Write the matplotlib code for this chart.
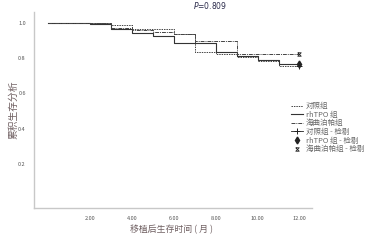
import matplotlib
matplotlib.use("Agg")
import matplotlib.pyplot as plt
from matplotlib.lines import Line2D
from matplotlib.path import Path

plt.rcParams['font.family'] = ['Noto Sans CJK SC', 'DejaVu Sans']

# Survival data (step curves)
control_t = [0, 3, 4, 6, 7, 8, 9, 10, 11, 12]
control_s = [1.0, 0.988, 0.963, 0.934, 0.836, 0.821, 0.808, 0.780, 0.757, 0.757]

rhtpo_t = [0, 2, 3, 4, 5, 6, 8, 9, 10, 11, 12]
rhtpo_s = [1.0, 0.990, 0.966, 0.940, 0.926, 0.885, 0.836, 0.811, 0.788, 0.768, 0.768]

hetro_t = [0, 3, 4, 5, 6, 7, 9, 12]
hetro_s = [1.0, 0.970, 0.958, 0.946, 0.934, 0.895, 0.821, 0.821]

# censored points at end of follow-up
cens_t = 12
cens_s = {"control": 0.757, "rhtpo": 0.768, "hetro": 0.821}

x_ticks = [2, 4, 6, 8, 10, 12]
x_labels = ["2.00", "4.00", "6.00", "8.00", "10.00", "12.00"]
y_ticks = [0.2, 0.4, 0.6, 0.8, 1.0]
y_labels = ["0.2", "0.4", "0.6", "0.8", "1.0"]

legend_names = ["对照组", "rhTPO 组", "海曲泊帕组", "对照组 - 检剔", "rhTPO 组 - 检剔", "海曲泊帕组 - 检剔"]

hourglass = Path([(-1, 1), (1, 1), (-1, -1), (1, -1), (-1, 1)])

fig = plt.figure(figsize=(3.71, 2.40), dpi=100)
ax = fig.add_axes([0.092, 0.133, 0.749, 0.817])

ax.step(control_t, control_s, where="post", color="#444444", lw=0.7, linestyle=(0, (1.5, 1)))
ax.step(rhtpo_t, rhtpo_s, where="post", color="#333333", lw=0.8, linestyle="-")
ax.step(hetro_t, hetro_s, where="post", color="#444444", lw=0.7, linestyle=(0, (4, 1, 1, 1)))

ax.plot(cens_t, cens_s["control"], marker="+", color="#222222", ms=4, mew=0.7)
ax.plot(cens_t, cens_s["rhtpo"], marker="d", color="#222222", ms=3.5)
ax.plot(cens_t, cens_s["hetro"], marker=hourglass, color="#222222", ms=2.5, mew=0.6,
        markerfacecolor="white")

ax.set_xlim(-0.67, 12.6)
ax.set_ylim(-0.05, 1.06)
ax.set_xticks(x_ticks)
ax.set_xticklabels(x_labels)
ax.set_yticks(y_ticks)
ax.set_yticklabels(y_labels)
ax.tick_params(length=0, labelsize=4.0, labelcolor="#555555", pad=6)

for side in ["top", "right"]:
    ax.spines[side].set_visible(False)
for side in ["left", "bottom"]:
    ax.spines[side].set_color("#c8c8c8")
    ax.spines[side].set_linewidth(1.0)

ax.set_xlabel("移植后生存时间 ( 月 )", fontsize=6.4, color="#6e5e60")
ax.set_ylabel("累积生存分析", fontsize=7, color="#6e5e60")
ax.xaxis.set_label_coords(0.496, -0.087)
ax.yaxis.set_label_coords(-0.055, 0.5)

fig.text(0.566, 0.978, "$P$=0.809", fontsize=5.5, color="#2a2a4a", ha="center", va="center",
         family="DejaVu Sans")

handles = [
    Line2D([], [], color="#444444", lw=0.7, linestyle=(0, (1.5, 1))),
    Line2D([], [], color="#333333", lw=0.8),
    Line2D([], [], color="#444444", lw=0.7, linestyle=(0, (4, 1, 1, 1))),
    Line2D([], [], color="#222222", marker="+", ms=4, mew=0.7, linestyle="-", lw=0.6),
    Line2D([], [], color="#222222", marker="d", ms=3.5, linestyle="none"),
    Line2D([], [], color="#222222", marker=hourglass, ms=2.5, mew=0.6,
           markerfacecolor="white", linestyle="none"),
]
leg = fig.legend(handles, legend_names, loc="upper left", bbox_to_anchor=(0.775, 0.59),
                 frameon=False, fontsize=5.4, handlelength=1.6, handletextpad=0.35,
                 labelspacing=0.08, borderpad=0)
for t in leg.get_texts():
    t.set_color("#666666")

fig.savefig("out.png", dpi=100)
